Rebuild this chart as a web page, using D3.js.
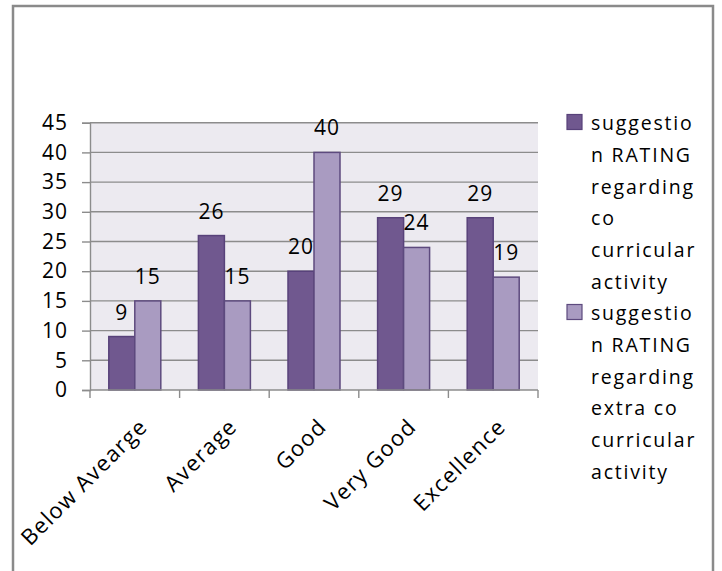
<html>
<head>
<script src="https://d3js.org/d3.v7.min.js"></script>
<style>
  body { margin: 0; background: #fff; }
  text { font-family: "Open Sans", "Liberation Sans", sans-serif; fill: #000; }
</style>
</head>
<body>
<svg id="chart" width="722" height="571"></svg>
<script>
// data
var categories = ["Below Avearge", "Average", "Good", "Very Good", "Excellence"];
var seriesNames = ["co", "extra"];
var coValues = [9, 26, 20, 29, 29];
var extraValues = [15, 15, 40, 24, 19];
var yTicks = [0, 5, 10, 15, 20, 25, 30, 35, 40, 45];
var legendLines = [
  ["suggestio", "n RATING", "regarding", "co", "curricular", "activity"],
  ["suggestio", "n RATING", "regarding", "extra co", "curricular", "activity"]
];

var colors = { co: "#70588F", extra: "#A99BC1" };
var strokes = { co: "#58427A", extra: "#5D4A7E" };

var svg = d3.select("#chart");

// outer frame
svg.append("rect")
  .attr("x", 13).attr("y", 6)
  .attr("width", 700).attr("height", 600)
  .attr("fill", "none")
  .attr("stroke", "#8a8a8a")
  .attr("stroke-width", 2.5);

var plotLeft = 90, plotTop = 122.7, plotW = 448, plotBottom = 390;

var x0 = d3.scaleBand().domain(categories).range([plotLeft, plotLeft + plotW]).padding(0);
var x1 = d3.scaleBand().domain(seriesNames).range([0, x0.bandwidth()])
  .paddingInner(0).paddingOuter(0.723);
var y = d3.scaleLinear().domain([0, 45]).range([plotBottom, plotTop]);

// plot background
svg.append("rect")
  .attr("x", plotLeft).attr("y", y(45))
  .attr("width", plotW).attr("height", y(0) - y(45))
  .attr("fill", "#ECEAF0");

// gridlines
svg.append("g").selectAll("line")
  .data(yTicks.filter(function(d) { return d > 0; }))
  .enter().append("line")
  .attr("x1", plotLeft).attr("x2", plotLeft + plotW)
  .attr("y1", function(d) { return y(d); })
  .attr("y2", function(d) { return y(d); })
  .attr("stroke", "#8c8c8c")
  .attr("stroke-width", 1.4);

// y axis
var yAxis = svg.append("g")
  .attr("transform", "translate(" + plotLeft + ",0)")
  .call(d3.axisLeft(y).tickValues(yTicks).tickSize(8).tickPadding(14));
yAxis.select(".domain").attr("stroke", "#8c8c8c").attr("stroke-width", 1.4);
yAxis.selectAll(".tick line").attr("stroke", "#8c8c8c").attr("stroke-width", 1.4);
yAxis.selectAll(".tick text")
  .style("font-size", "21px")
  .style("letter-spacing", "1px")
  .style("font-family", "'Open Sans', sans-serif")
  .attr("fill", "#000");

// bars
var groups = svg.append("g").selectAll("g")
  .data(categories)
  .enter().append("g")
  .attr("transform", function(d) { return "translate(" + x0(d) + ",0)"; });

groups.selectAll("rect")
  .data(function(d, i) {
    return [{ s: "co", v: coValues[i] }, { s: "extra", v: extraValues[i] }];
  })
  .enter().append("rect")
  .attr("x", function(d) { return x1(d.s); })
  .attr("y", function(d) { return y(d.v); })
  .attr("width", x1.bandwidth())
  .attr("height", function(d) { return y(0) - y(d.v); })
  .attr("fill", function(d) { return colors[d.s]; })
  .attr("stroke", function(d) { return strokes[d.s]; })
  .attr("stroke-width", 1.5);

// data labels
groups.selectAll("text")
  .data(function(d, i) {
    return [{ s: "co", v: coValues[i] }, { s: "extra", v: extraValues[i] }];
  })
  .enter().append("text")
  .attr("x", function(d) { return x1(d.s) + x1.bandwidth() / 2; })
  .attr("y", function(d) { return y(d.v) - 17; })
  .attr("text-anchor", "middle")
  .style("font-size", "21px")
  .style("letter-spacing", "1px")
  .text(function(d) { return d.v; });

// x axis
var xAxis = svg.append("g");
xAxis.append("line")
  .attr("x1", plotLeft).attr("x2", plotLeft + plotW)
  .attr("y1", plotBottom).attr("y2", plotBottom)
  .attr("stroke", "#8c8c8c").attr("stroke-width", 1.4);
xAxis.selectAll(".xt")
  .data(d3.range(categories.length + 1))
  .enter().append("line")
  .attr("x1", function(i) { return plotLeft + i * x0.step(); })
  .attr("x2", function(i) { return plotLeft + i * x0.step(); })
  .attr("y1", plotBottom).attr("y2", plotBottom + 8)
  .attr("stroke", "#8c8c8c").attr("stroke-width", 1.4);

xAxis.selectAll(".cat")
  .data(categories)
  .enter().append("text")
  .attr("transform", function(d) {
    return "translate(" + (x0(d) + x0.bandwidth() / 2 + 14) + ",428) rotate(-45)";
  })
  .attr("text-anchor", "end")
  .style("font-size", "22px")
  .style("letter-spacing", "1.3px")
  .text(function(d) { return d; });

// legend
var lineH = 31.8;
var legendStart = [130, 320];
seriesNames.forEach(function(s, k) {
  var by = legendStart[k];
  svg.append("rect")
    .attr("x", 567).attr("y", by - 15.5)
    .attr("width", 15).attr("height", 15)
    .attr("fill", colors[s])
    .attr("stroke", strokes[s]).attr("stroke-width", 1.2);
  var t = svg.append("text")
    .attr("x", 591).attr("y", by)
    .style("font-size", "19.5px")
    .style("letter-spacing", "1.8px");
  t.selectAll("tspan")
    .data(legendLines[k])
    .enter().append("tspan")
    .attr("x", 591)
    .attr("dy", function(d, i) { return i === 0 ? 0 : lineH; })
    .text(function(d) { return d; });
});
</script>
</body>
</html>
